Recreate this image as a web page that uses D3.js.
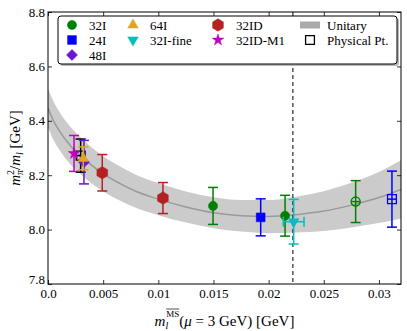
<!DOCTYPE html>
<html>
<head>
<meta charset="utf-8">
<script src="https://cdn.jsdelivr.net/npm/d3@7"></script>
<style>
  body { margin: 0; background: #fff; }
  svg text { font-family: 'Liberation Serif', 'DejaVu Serif', serif; }
</style>
</head>
<body>
<div id="chart"></div>
<script>
// Fit band: light-quark mass, central value, half width
const bandX    = [0, 0.0005, 0.001, 0.002, 0.003, 0.004, 0.005, 0.0065, 0.008, 0.010, 0.0125, 0.015, 0.0175, 0.020, 0.0225, 0.025, 0.0275, 0.030, 0.032];
const bandMid  = [8.447, 8.40, 8.365, 8.31, 8.27, 8.235, 8.205, 8.17, 8.14, 8.112, 8.083, 8.062, 8.051, 8.048, 8.055, 8.068, 8.090, 8.118, 8.148];
const bandHalf = [0.072, 0.071, 0.070, 0.069, 0.068, 0.066, 0.065, 0.063, 0.061, 0.059, 0.057, 0.057, 0.058, 0.061, 0.066, 0.073, 0.082, 0.094, 0.107];

// Points: [m_l, value, y error]
const pts32I      = [[0.01496, 8.087, 0.068], [0.02149, 8.051, 0.075]];
const pts32Iopen  = [[0.02789, 8.103, 0.077]];
const pts24I      = [[0.01928, 8.045, 0.068]];
const pts24Iopen  = [[0.03118, 8.112, 0.103]];
const pts48I      = [[0.00326, 8.248, 0.080]];
const pts64I      = [[0.00320, 8.262, 0.042]];
const pts32Ifine  = [[0.02227, 8.029, 0.082]];
const xerr32Ifine = [0.00094];
const pts32ID     = [[0.00492, 8.209, 0.067], [0.01042, 8.116, 0.057]];
const pts32IDM1   = [[0.00236, 8.280, 0.066]];
const ptsPhys     = [[0.00296, 8.272, 0.061]];
const physMass    = 0.0222;

const xTicks = [0, 0.005, 0.01, 0.015, 0.02, 0.025, 0.03];
const xTickLabels = ['0.0', '0.005', '0.01', '0.015', '0.02', '0.025', '0.03'];
const yTicks = [7.8, 8.0, 8.2, 8.4, 8.6, 8.8];

const legendCol1 = ['32I', '24I', '48I'];
const legendCol2 = ['64I', '32I-fine'];
const legendCol3 = ['32ID', '32ID-M1'];
const legendCol4 = ['Unitary', 'Physical Pt.'];

const colors = {
  '32I': '#008000', '24I': '#0000ff', '48I': '#6a14d2', '64I': '#e0a526',
  '32I-fine': '#00bfbf', '32ID': '#b22222', '32ID-M1': '#bf00bf', 'Physical Pt.': '#000'
};

const serif = "'Liberation Serif', 'DejaVu Serif', serif";

const margin = { top: 12, right: 6, bottom: 47, left: 48 },
    width = 407 - margin.left - margin.right,
    height = 331 - margin.top - margin.bottom;

const svg = d3.select('#chart').append('svg')
    .attr('width', 407)
    .attr('height', 331)
    .attr('font-family', serif);

const g = svg.append('g')
    .attr('transform', 'translate(' + margin.left + ',' + margin.top + ')');

const xScale = d3.scaleLinear().domain([0, 0.032]).range([0, width]);
const yScale = d3.scaleLinear().domain([7.8, 8.8]).range([height, 0]);

g.append('clipPath').attr('id', 'clip')
  .append('rect').attr('width', width).attr('height', height);

const plot = g.append('g').attr('clip-path', 'url(#clip)');

// band + central line
const bandData = bandX.map(function(m, i) { return { m: m, mid: bandMid[i], h: bandHalf[i] }; });
plot.append('path')
    .datum(bandData)
    .attr('fill', '#cbcbcb')
    .attr('d', d3.area()
      .curve(d3.curveMonotoneX)
      .x(function(d) { return xScale(d.m); })
      .y0(function(d) { return yScale(d.mid - d.h); })
      .y1(function(d) { return yScale(d.mid + d.h); }));
plot.append('path')
    .datum(bandData)
    .attr('fill', 'none')
    .attr('stroke', '#9a9a9a')
    .attr('stroke-width', 1.5)
    .attr('d', d3.line()
      .curve(d3.curveMonotoneX)
      .x(function(d) { return xScale(d.m); })
      .y(function(d) { return yScale(d.mid); }));

// dashed physical-mass line
plot.append('line')
    .attr('x1', xScale(physMass)).attr('x2', xScale(physMass))
    .attr('y1', 0).attr('y2', height)
    .attr('stroke', '#000').attr('stroke-width', 1)
    .attr('stroke-dasharray', '4,3');

// marker shapes
function hexPath(r) {
  const p = d3.path();
  for (let k = 0; k < 6; k++) {
    const a = (-90 + 60 * k) * Math.PI / 180;
    if (k === 0) p.moveTo(r * Math.cos(a), r * Math.sin(a));
    else p.lineTo(r * Math.cos(a), r * Math.sin(a));
  }
  p.closePath();
  return p.toString();
}
const shapes = {
  '32I':      { d: d3.symbol(d3.symbolCircle, 66)(), rot: 0 },
  '24I':      { d: d3.symbol(d3.symbolSquare, 78)(), rot: 0 },
  '48I':      { d: d3.symbol(d3.symbolSquare, 60)(), rot: 45 },
  '64I':      { d: d3.symbol(d3.symbolTriangle, 48)(), rot: 0 },
  '32I-fine': { d: d3.symbol(d3.symbolTriangle, 48)(), rot: 180 },
  '32ID':     { d: hexPath(6.2), rot: 0 },
  '32ID-M1':  { d: d3.symbol(d3.symbolStar, 42)(), rot: 0 },
  'Physical Pt.': { d: d3.symbol(d3.symbolSquare, 78)(), rot: 0 }
};

function drawSeries(data, name, opts) {
  opts = opts || {};
  const c = colors[name];
  const grp = plot.append('g');
  data.forEach(function(d, i) {
    const cx = xScale(d[0]), cy = yScale(d[1]);
    const top = yScale(d[1] + d[2]), bot = yScale(d[1] - d[2]);
    const bar = grp.append('g').attr('stroke', c).attr('stroke-width', 1.5);
    bar.append('line').attr('x1', cx).attr('x2', cx).attr('y1', top).attr('y2', bot);
    bar.append('line').attr('x1', cx - 5).attr('x2', cx + 5).attr('y1', top).attr('y2', top);
    bar.append('line').attr('x1', cx - 5).attr('x2', cx + 5).attr('y1', bot).attr('y2', bot);
    if (opts.xerr) {
      const l = xScale(d[0] - opts.xerr[i]), r = xScale(d[0] + opts.xerr[i]);
      bar.append('line').attr('x1', l).attr('x2', r).attr('y1', cy).attr('y2', cy);
      bar.append('line').attr('x1', l).attr('x2', l).attr('y1', cy - 5).attr('y2', cy + 5);
      bar.append('line').attr('x1', r).attr('x2', r).attr('y1', cy - 5).attr('y2', cy + 5);
    }
    if (opts.open) {
      bar.append('line').attr('x1', cx - 4.5).attr('x2', cx + 4.5).attr('y1', cy).attr('y2', cy);
    }
    grp.append('path')
        .attr('d', shapes[name].d)
        .attr('transform', 'translate(' + cx + ',' + cy + ') rotate(' + shapes[name].rot + ')')
        .attr('fill', opts.open ? 'none' : c)
        .attr('stroke', c)
        .attr('stroke-width', opts.open ? 1.3 : 0.5);
  });
}

drawSeries(ptsPhys, 'Physical Pt.', { open: true });
drawSeries(pts32IDM1, '32ID-M1');
drawSeries(pts48I, '48I');
drawSeries(pts64I, '64I');
drawSeries(pts32ID, '32ID');
drawSeries(pts32I, '32I');
drawSeries(pts32Iopen, '32I', { open: true });
drawSeries(pts24I, '24I');
drawSeries(pts24Iopen, '24I', { open: true });
drawSeries(pts32Ifine, '32I-fine', { xerr: xerr32Ifine });

// axes (ticks inward on all four sides)
function styleAxis(sel) {
  sel.attr('font-family', serif).attr('font-size', 13);
  sel.select('.domain').remove();
  sel.selectAll('line').attr('stroke', '#000').attr('stroke-width', 0.8);
  sel.selectAll('text').attr('fill', '#000');
}
g.append('g')
    .attr('transform', 'translate(0,' + height + ')')
    .call(d3.axisBottom(xScale).tickValues(xTicks)
      .tickFormat(function(d, i) { return xTickLabels[i]; })
      .tickSizeInner(-4).tickSizeOuter(0).tickPadding(5))
    .call(styleAxis);
g.append('g')
    .call(d3.axisTop(xScale).tickValues(xTicks).tickFormat('')
      .tickSizeInner(-4).tickSizeOuter(0))
    .call(styleAxis);
const yAxisG = g.append('g')
    .call(d3.axisLeft(yScale).tickValues(yTicks).tickFormat(d3.format('.1f'))
      .tickSizeInner(-4).tickSizeOuter(0).tickPadding(3))
    .call(styleAxis);
// lowest y label sits just above the x labels, as in the original
yAxisG.selectAll('.tick text').filter(function(d) { return d === 7.8; }).attr('dy', '-0.05em');
g.append('g')
    .attr('transform', 'translate(' + width + ',0)')
    .call(d3.axisRight(yScale).tickValues(yTicks).tickFormat('')
      .tickSizeInner(-4).tickSizeOuter(0))
    .call(styleAxis);

g.append('rect')
    .attr('width', width).attr('height', height)
    .attr('fill', 'none').attr('stroke', '#000').attr('stroke-width', 1);

// legend
const lg = svg.append('g');
lg.append('rect')
    .attr('x', 60).attr('y', 18).attr('width', 339).attr('height', 48).attr('rx', 3)
    .attr('fill', '#b8b8b8');
lg.append('rect')
    .attr('x', 58).attr('y', 16).attr('width', 339).attr('height', 48).attr('rx', 3)
    .attr('fill', '#fff').attr('stroke', '#000').attr('stroke-width', 1);

const rowY = [25, 40, 55];
const columns = [
  { names: legendCol1, mx: 72, tx: 89 },
  { names: legendCol2, mx: 133, tx: 150 },
  { names: legendCol3, mx: 218, tx: 236 },
  { names: legendCol4, mx: 310, tx: 327 }
];
columns.forEach(function(col) {
  col.names.forEach(function(name, i) {
    const y = rowY[i];
    if (name === 'Unitary') {
      lg.append('rect').attr('x', col.mx - 10).attr('y', y - 3.5)
        .attr('width', 20).attr('height', 7).attr('fill', '#aaaaaa');
    } else {
      const open = name === 'Physical Pt.';
      lg.append('path')
        .attr('d', shapes[name].d)
        .attr('transform', 'translate(' + col.mx + ',' + y + ') rotate(' + shapes[name].rot + ')')
        .attr('fill', open ? 'none' : colors[name])
        .attr('stroke', colors[name])
        .attr('stroke-width', open ? 1.3 : 0.5);
    }
    lg.append('text').attr('x', col.tx).attr('y', y + 4.5)
      .attr('font-size', 13).text(name);
  });
});

// y-axis title
const yt = svg.append('text')
    .attr('transform', 'translate(20,' + (margin.top + height / 2) + ') rotate(-90)')
    .attr('text-anchor', 'middle')
    .attr('font-size', 15);
yt.append('tspan').attr('font-style', 'italic').text('m');
yt.append('tspan').attr('font-size', 10).attr('dy', -6).text('2');
yt.append('tspan').attr('font-size', 10).attr('font-style', 'italic').attr('dx', -5).attr('dy', 9).text('π');
yt.append('tspan').attr('dy', -3).text('/');
yt.append('tspan').attr('font-style', 'italic').text('m');
yt.append('tspan').attr('font-size', 10).attr('font-style', 'italic').attr('dy', 3).text('l');
yt.append('tspan').attr('dy', -3).text(' [GeV]');

// x-axis title
const xt = svg.append('text')
    .attr('x', margin.left + width / 2).attr('y', 326)
    .attr('text-anchor', 'middle')
    .attr('font-size', 15);
xt.append('tspan').attr('font-style', 'italic').text('m');
xt.append('tspan').attr('font-size', 10).attr('font-style', 'italic').attr('dy', 3).text('l');
xt.append('tspan').attr('font-size', 9).attr('dx', -2).attr('dy', -12).text('MS');
xt.append('tspan').attr('dy', 9).text('(');
xt.append('tspan').attr('font-style', 'italic').text('μ');
xt.append('tspan').text(' = 3 GeV)  [GeV]');

// overline above "MS"
const msStart = xt.node().getStartPositionOfChar(2);
const msEnd = xt.node().getEndPositionOfChar(3);
svg.append('line')
    .attr('x1', msStart.x).attr('x2', msEnd.x)
    .attr('y1', msStart.y - 8).attr('y2', msStart.y - 8)
    .attr('stroke', '#000').attr('stroke-width', 0.7);
</script>
</body>
</html>
